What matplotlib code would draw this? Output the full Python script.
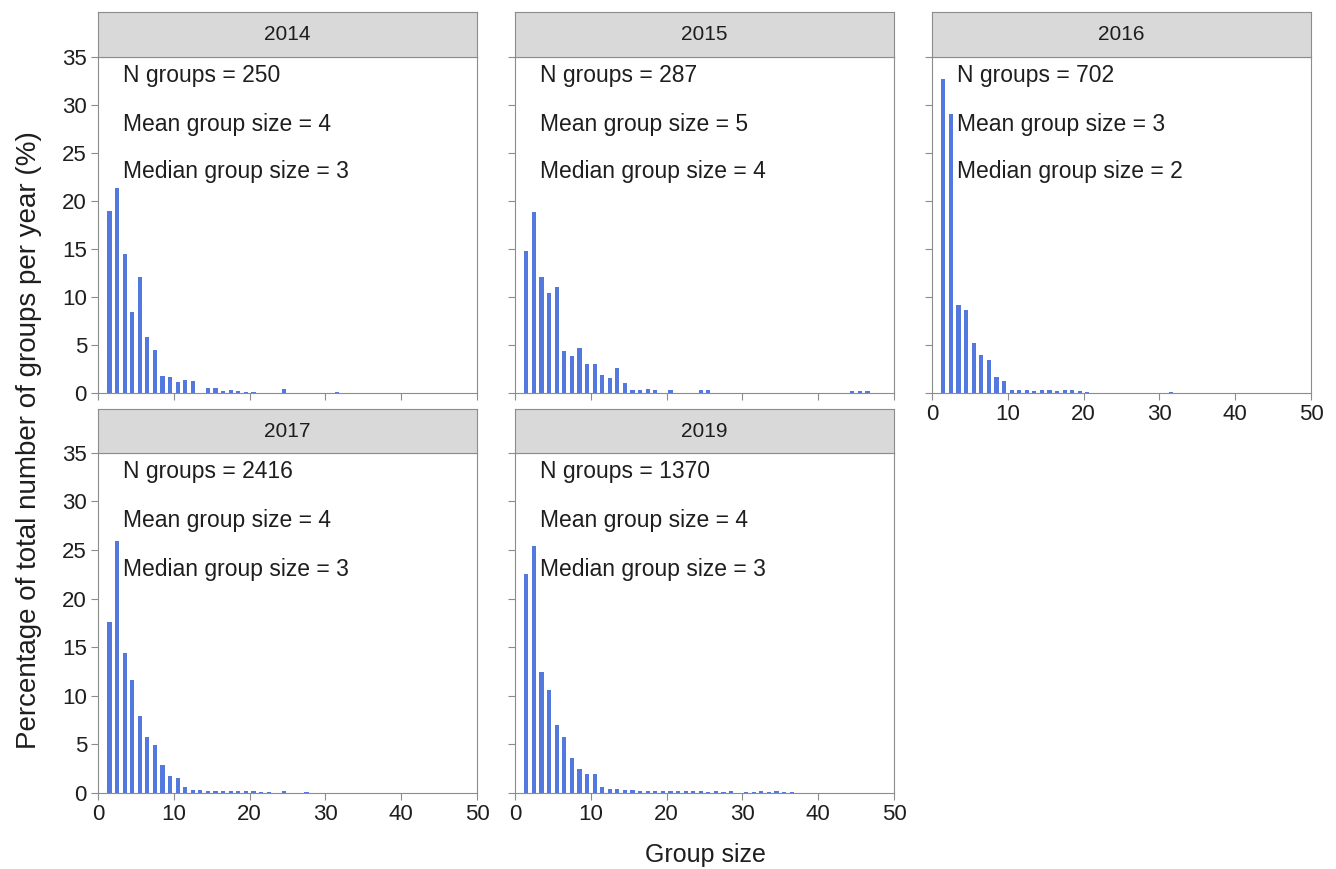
import matplotlib
matplotlib.use("Agg")
import matplotlib.pyplot as plt
import numpy as np

plt.rcParams['font.family'] = ['Liberation Sans', 'DejaVu Sans']

# group size categories and percentage of groups per year
group_size = np.arange(1, 51)

def pad(vals):
    out = np.zeros(50)
    out[:len(vals)] = vals
    return out

pct_2014 = pad([19.0, 21.3, 14.5, 8.4, 12.1, 5.8, 4.5, 1.8, 1.7, 1.1, 1.4, 1.2, 0.0, 0.5,
                0.5, 0.2, 0.3, 0.2, 0.1, 0.1, 0.0, 0.0, 0.0, 0.4, 0.0, 0.0, 0.0, 0.0, 0.0,
                0.0, 0.1])
pct_2015 = pad([14.8, 18.8, 12.1, 10.4, 11.0, 4.4, 3.9, 4.7, 3.0, 3.0, 1.9, 1.6, 2.6, 1.0,
                0.3, 0.3, 0.4, 0.3, 0.0, 0.3, 0.0, 0.0, 0.0, 0.3, 0.3, 0.0, 0.0, 0.0, 0.0,
                0.0, 0.0, 0.0, 0.0, 0.0, 0.0, 0.0, 0.0, 0.0, 0.0, 0.0, 0.0, 0.0, 0.0, 0.2,
                0.2, 0.2])
pct_2016 = pad([32.7, 29.1, 9.2, 8.6, 5.2, 4.0, 3.4, 1.7, 1.2, 0.3, 0.3, 0.3, 0.2, 0.3,
                0.3, 0.2, 0.3, 0.3, 0.2, 0.1, 0.0, 0.0, 0.0, 0.0, 0.0, 0.0, 0.0, 0.0, 0.0,
                0.0, 0.1])
pct_2017 = pad([17.6, 25.9, 14.4, 11.6, 7.9, 5.8, 4.9, 2.9, 1.7, 1.5, 0.6, 0.3, 0.3, 0.2,
                0.2, 0.2, 0.2, 0.2, 0.2, 0.2, 0.1, 0.1, 0.0, 0.2, 0.0, 0.0, 0.1])
pct_2019 = pad([22.5, 25.4, 12.5, 10.6, 7.0, 5.8, 3.6, 2.5, 2.0, 2.0, 0.6, 0.4, 0.4, 0.3,
                0.3, 0.2, 0.2, 0.2, 0.2, 0.2, 0.2, 0.2, 0.2, 0.2, 0.1, 0.2, 0.1, 0.2, 0.0,
                0.1, 0.1, 0.2, 0.1, 0.2, 0.1, 0.1])

years = ["2014", "2015", "2016", "2017", "2019"]
series = [pct_2014, pct_2015, pct_2016, pct_2017, pct_2019]
n_groups = [250, 287, 702, 2416, 1370]
mean_size = [4, 5, 3, 4, 4]
median_size = [3, 4, 2, 3, 3]

fig = plt.figure(figsize=(13.36, 8.69), dpi=100)

lefts = [0.0734, 0.3855, 0.6976]
width = 0.2837
rows = [(0.5478, 0.3867), (0.0875, 0.3913)]
strip_h = [0.052, 0.050]
slots = [(0, 0), (0, 1), (0, 2), (1, 0), (1, 1)]

spine_col = '#8c8c8c'
bar_col = '#5479de'
txt_col = '#1e1e1e'

for i, (r, c) in enumerate(slots):
    bottom, height = rows[r]
    ax = fig.add_axes([lefts[c], bottom, width, height])
    ax.bar(group_size + 0.5, series[i], width=0.55, color=bar_col, edgecolor='none')
    ax.set_xlim(0, 50)
    ax.set_ylim(0, 35)
    ax.set_xticks([0, 10, 20, 30, 40, 50])
    ax.set_yticks([0, 5, 10, 15, 20, 25, 30, 35])
    for s in ax.spines.values():
        s.set_color(spine_col)
    ax.tick_params(colors=spine_col, labelcolor=txt_col, labelsize=16,
                   length=5, direction='out', pad=3)
    show_x = (r == 1) or (c == 2)
    ax.tick_params(axis='x', labelbottom=show_x)
    ax.tick_params(axis='y', labelleft=(c == 0))

    ax.text(0.065, 0.945, f"N groups = {n_groups[i]}", transform=ax.transAxes,
            fontsize=16.5, va='center', ha='left', color=txt_col)
    ax.text(0.065, 0.80, f"Mean group size = {mean_size[i]}", transform=ax.transAxes,
            fontsize=16.5, va='center', ha='left', color=txt_col)
    ax.text(0.065, 0.658, f"Median group size = {median_size[i]}", transform=ax.transAxes,
            fontsize=16.5, va='center', ha='left', color=txt_col)

    # facet strip
    sax = fig.add_axes([lefts[c], bottom + height, width, strip_h[r]])
    sax.set_facecolor('#d9d9d9')
    sax.set_xticks([])
    sax.set_yticks([])
    for s in sax.spines.values():
        s.set_color(spine_col)
    sax.text(0.5, 0.5, years[i], transform=sax.transAxes, ha='center', va='center',
             fontsize=15, color=txt_col)

fig.text(0.022, 0.494, "Percentage of total number of groups per year (%)", rotation=90,
         ha='center', va='center', fontsize=20, color=txt_col)
fig.text(0.528, 0.016, "Group size", ha='center', va='center', fontsize=18,
         color=txt_col)

fig.savefig("out.png", dpi=100)
